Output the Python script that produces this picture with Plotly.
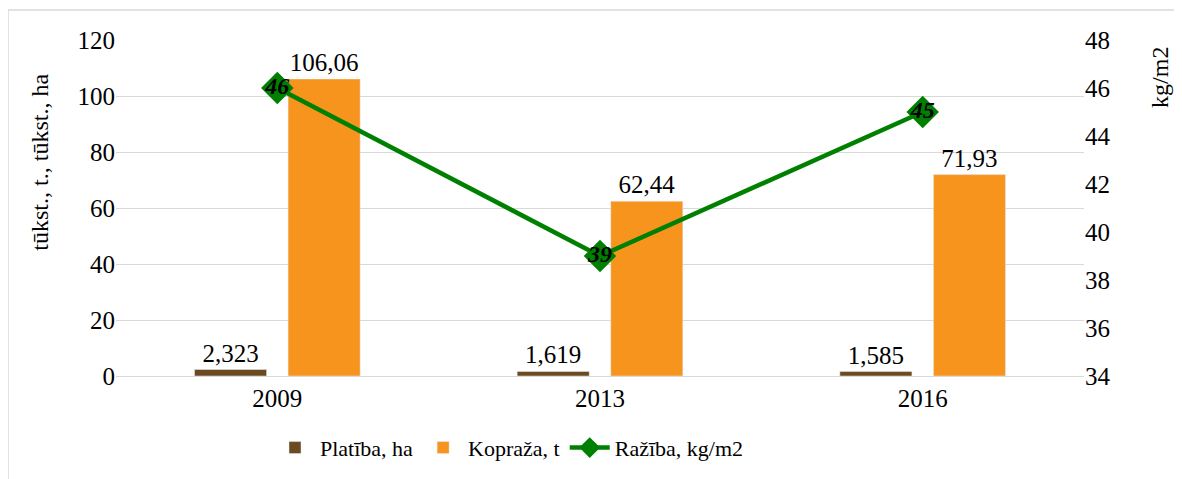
import plotly.graph_objects as go

years = ["2009", "2013", "2016"]
platiba = [2.323, 1.619, 1.585]
platiba_lbl = ["2,323", "1,619", "1,585"]
koprazha = [106.06, 62.44, 71.93]
koprazha_lbl = ["106,06", "62,44", "71,93"]
razhiba = [46, 39, 45]
razhiba_lbl = ["<b><i>46</i></b>", "<b><i>39</i></b>", "<b><i>45</i></b>"]

FONT = "Liberation Serif, Times New Roman, serif"

fig = go.Figure()
fig.add_trace(go.Bar(
    x=years, y=platiba, name="Platība, ha", marker_color="#6B4A1F",
    text=platiba_lbl, textposition="outside", cliponaxis=False,
    textfont=dict(family=FONT, size=25, color="black"),
))
fig.add_trace(go.Bar(
    x=years, y=koprazha, name="Kopraža, t", marker_color="#F7941D",
    text=koprazha_lbl, textposition="outside", cliponaxis=False,
    textfont=dict(family=FONT, size=25, color="black"),
))
fig.add_trace(go.Scatter(
    x=years, y=razhiba, name="Ražība, kg/m2", yaxis="y2",
    mode="lines+markers+text", text=razhiba_lbl, textposition="middle center",
    textfont=dict(family=FONT, size=24, color="black"),
    line=dict(color="#008000", width=4.5),
    marker=dict(symbol="diamond", size=25, color="#008000"),
    cliponaxis=False,
))

fig.update_layout(
    width=1174, height=471,
    margin=dict(l=108, r=98, t=32, b=102),
    paper_bgcolor="white", plot_bgcolor="white",
    font=dict(family=FONT, size=25, color="black"),
    barmode="group", bargap=0.42, bargroupgap=0.23,
    showlegend=True,
    legend=dict(orientation="h", x=(270 - 116) / 968, xanchor="left", y=-0.21, yanchor="middle",
                font=dict(family=FONT, size=22), itemwidth=40, tracegroupgap=0),
    xaxis=dict(showgrid=False, showline=True, linecolor="#D9D9D9", linewidth=1,
               ticks="", tickfont=dict(size=25)),
    yaxis=dict(range=[0, 120], dtick=20, showgrid=True, gridcolor="#D9D9D9",
               zeroline=False, showline=False, ticks="",
               tickfont=dict(size=25)),
    yaxis2=dict(range=[34, 48], dtick=2, overlaying="y", side="right",
                showgrid=False, zeroline=False, showline=False, ticks="",
                tickfont=dict(size=25)),
    annotations=[
        dict(text="tūkst., t., tūkst., ha", textangle=-90, xref="paper", yref="paper",
             x=(40 - 116) / 968, y=(377 - 163) / 337, xanchor="center", yanchor="middle",
             showarrow=False, font=dict(family=FONT, size=24)),
        dict(text="kg/m2", textangle=-90, xref="paper", yref="paper",
             x=(1160 - 116) / 968, y=(377 - 78) / 337, xanchor="center", yanchor="middle",
             showarrow=False, font=dict(family=FONT, size=24)),
    ],
    shapes=[
        dict(type="line", xref="paper", yref="paper", x0=-0.1116, x1=-0.1116,
             y0=1.089, y1=-0.31, line=dict(color="#D9D9D9", width=1.5)),
        dict(type="line", xref="paper", yref="paper", x0=-0.1116, x1=1.11,
             y0=1.089, y1=1.089, line=dict(color="#D9D9D9", width=1.5)),
    ],
)

fig.write_html("out.html")
